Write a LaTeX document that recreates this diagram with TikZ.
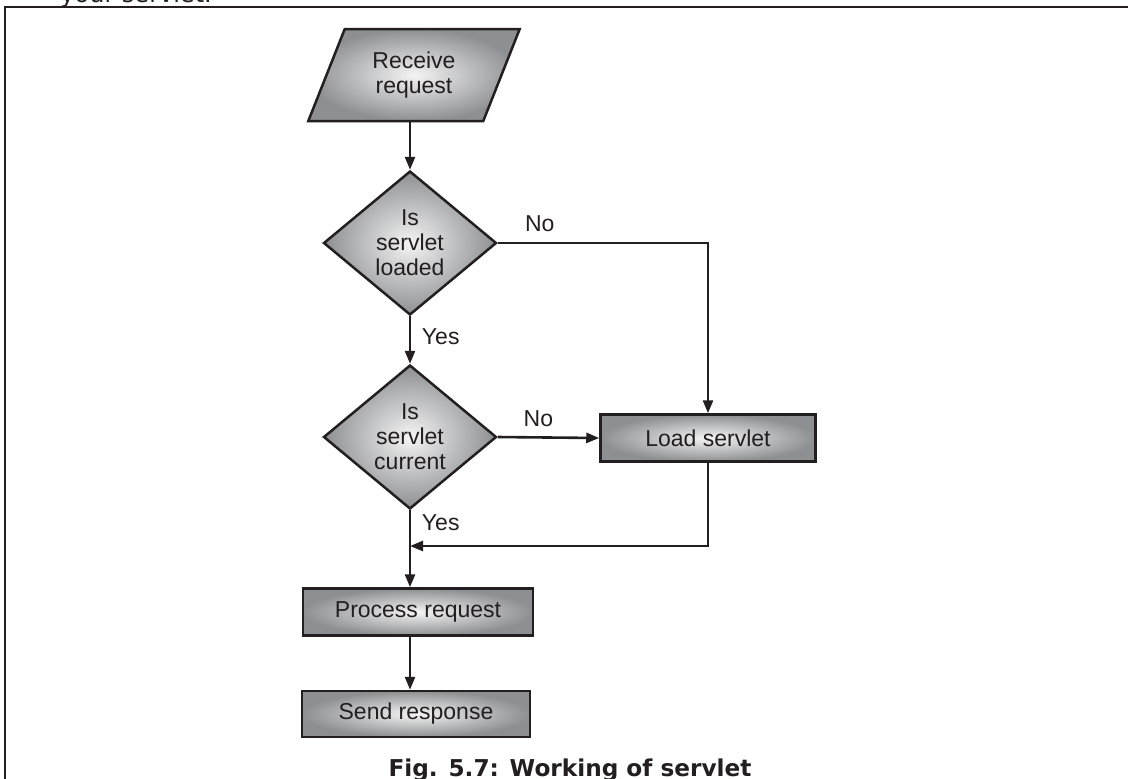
\documentclass[tikz,border=0pt]{standalone}
\usepackage{fontspec}
\setmainfont{Liberation Sans}
\newfontfamily\capfont{DejaVu Sans}
\usepackage{tikz}
\usetikzlibrary{arrows.meta,shapes.geometric}
\definecolor{ink}{HTML}{231F20}
\definecolor{shadelight}{HTML}{F4F4F4}
\definecolor{shadedark}{HTML}{8E8F92}

\begin{document}
\begin{tikzpicture}[x=0.5pt,y=-0.5pt,>={Triangle[length=6.5pt,width=5pt]},
  every node/.style={font=\fontsize{11.5}{12.5}\selectfont,text=ink},
  box/.style={draw=ink,line width=1.25pt,inner color=shadelight,outer color=shadedark},
  procbox/.style={box,rectangle,minimum height=23.5pt},
  decide/.style={box,diamond,inner sep=0pt,minimum width=86.5pt,minimum height=72pt,align=center},
  inout/.style={box,trapezium,trapezium left angle=67,trapezium right angle=113,
    trapezium stretches=true,minimum width=106.5pt,minimum height=46pt,align=center},
  flow/.style={draw=ink,line width=1.3pt}]
\useasboundingbox (0,0) rectangle (1128,778);
\clip (0,0) rectangle (1128,778);
% page frame and text around it
\draw[ink,line width=1.3pt] (1135,7) -- (5,7) -- (5,785);
\node[font=\capfont\fontsize{12}{14}\selectfont,anchor=base west,inner sep=0pt] (prev) at (60,2) {your servlet.};
% flow
\node[inout] (recv) at (414,75) {Receive\\request};
\node[decide] (loaded) at (410,243) {Is\\servlet\\loaded};
\node[decide] (current) at (410,437) {Is\\servlet\\current};
\node[procbox,minimum width=107.5pt] (load) at (708,438) {Load servlet};
\node[procbox,minimum width=115pt] (proc) at (418,612) {Process request};
\node[procbox,minimum width=114pt,minimum height=23pt] (send) at (416,714) {Send response};
\coordinate (join) at (410,546);

\draw[flow,->] (loaded.north |- recv.south) -- (loaded.north);
\draw[flow,->] (loaded.east) -| node[pos=0.1,above,yshift=1.5pt] {No} (load.north);
\draw[flow,->] (loaded.south) -- node[pos=0.44,right,xshift=2pt] {Yes} (current.north);
\draw[flow,->] (current.east) -- node[pos=0.4,above,yshift=1.5pt] {No} (load.west);
\draw[flow,->] (current.south) -- node[pos=0.16,right,xshift=2pt] {Yes} (current.south |- proc.north);
\draw[flow,->] (load.south) |- (join);
\draw[flow,->] (proc.south -| current.south) -- (current.south |- send.north);

\node[font=\capfont\bfseries\fontsize{11.6}{14}\selectfont,anchor=base] (cap) at (570,776) {Fig. 5.7: Working of servlet};
\end{tikzpicture}
\end{document}
